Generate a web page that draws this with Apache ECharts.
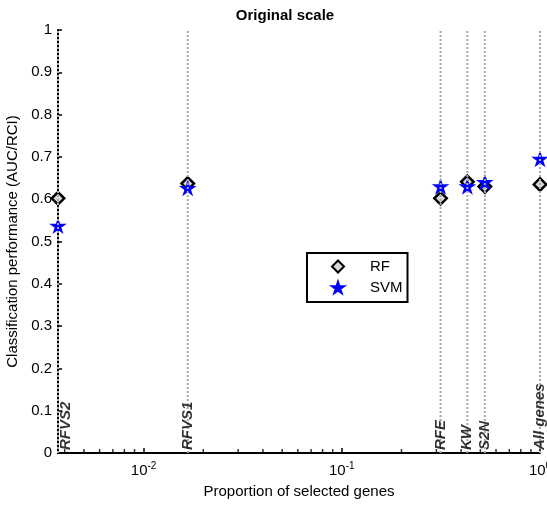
<!DOCTYPE html>
<html><head><meta charset="utf-8">
<script src="https://cdn.jsdelivr.net/npm/echarts@6/dist/echarts.min.js"></script>
<style>html,body{margin:0;padding:0;background:#fff}#c{width:547px;height:506px}</style>
</head><body><div id="c"></div>
<script>
// ---- data ----
const methods = ['RFVS2', 'RFVS1', 'RFE', 'KW', 'S2N', 'All genes'];
const proportion = [0.0037, 0.0167, 0.315, 0.43, 0.527, 1];
const rfValues = [0.602, 0.637, 0.602, 0.641, 0.630, 0.635];
const svmValues = [0.537, 0.626, 0.630, 0.630, 0.640, 0.695];
const seriesNames = ['RF', 'SVM'];
const yMin = 0, yMax = 1, yStep = 0.1;
const xMin = 0.0037, xMax = 1;
const minorTickValues = [0.004, 0.005, 0.006, 0.007, 0.008, 0.009,
  0.02, 0.03, 0.04, 0.05, 0.06, 0.07, 0.08, 0.09,
  0.2, 0.3, 0.4, 0.5, 0.6, 0.7, 0.8, 0.9];
const titleText = 'Original scale';
const xName = 'Proportion of selected genes';
const yName = 'Classification performance (AUC/RCI)';

// ---- chart ----
const FONT = '"Liberation Sans", Arial, sans-serif';
const starPath = 'path://M100,0 L122.45,69.1 L195.1,69.1 L136.3,111.8 L158.8,180.9 L100,138.2 L41.2,180.9 L63.7,111.8 L4.9,69.1 L77.55,69.1 Z';
const chart = echarts.init(document.getElementById('c'), null, {renderer: 'canvas'});

function isPow10(v) {
  const l = Math.log10(v);
  return Math.abs(l - Math.round(l)) < 1e-6;
}

const option = {
  backgroundColor: '#fff',
  animation: false,
  textStyle: {fontFamily: FONT},
  title: {
    text: titleText, left: 285, top: 8, textAlign: 'center', padding: 0,
    textStyle: {fontFamily: FONT, fontSize: 15, fontWeight: 'bold', color: '#000'}
  },
  grid: {left: 58, right: 7, top: 30, bottom: 53, containLabel: false, outerBoundsMode: 'none'},
  legend: {
    orient: 'vertical', left: 307, top: 253,
    data: [{name: seriesNames[0], icon: 'diamond'}, {name: seriesNames[1], icon: starPath}],
    backgroundColor: '#fff', borderColor: '#000', borderWidth: 2, borderRadius: 0,
    padding: [6, 5, 7, 24], itemWidth: 12, itemHeight: 12, itemGap: 6,
    textStyle: {fontFamily: FONT, fontSize: 15, color: '#000', padding: [0, 0, 0, 21]}
  },
  xAxis: {
    type: 'log', logBase: 10, min: xMin, max: xMax,
    name: xName, nameLocation: 'middle', nameGap: 31,
    nameTextStyle: {fontFamily: FONT, fontSize: 15, color: '#000'},
    axisLine: {show: true, onZero: false, lineStyle: {color: '#000', width: 2}},
    axisTick: {show: true, inside: true, length: 5, lineStyle: {color: '#000', width: 1.5}},
    minorTick: {show: false},
    splitLine: {show: false},
    axisLabel: {
      margin: 8, color: '#000', fontFamily: FONT, hideOverlap: false,
      formatter: function (v) {
        if (!isPow10(v)) return '';
        return '{b|10}{s|' + Math.round(Math.log10(v)) + '}';
      },
      rich: {
        b: {fontSize: 15, fontFamily: FONT, color: '#000'},
        s: {fontSize: 10, fontFamily: FONT, color: '#000', padding: [0, 0, 9, 0]}
      }
    }
  },
  yAxis: {
    type: 'value', min: yMin, max: yMax, interval: yStep,
    name: yName, nameLocation: 'middle', nameGap: 30,
    nameTextStyle: {fontFamily: FONT, fontSize: 15, color: '#000'},
    axisLine: {show: true, onZero: false, lineStyle: {color: '#000', width: 2}},
    axisTick: {show: true, inside: true, length: 4, lineStyle: {color: '#000', width: 1.5}},
    splitLine: {show: false},
    axisLabel: {margin: 6, fontSize: 15, color: '#000', fontFamily: FONT}
  },
  series: [
    {
      name: seriesNames[0], type: 'scatter', z: 2, clip: false,
      symbol: 'diamond', symbolSize: 12.5,
      itemStyle: {color: '#d9d9d9', borderColor: '#000', borderWidth: 2.5, opacity: 1},
      data: proportion.map((p, i) => [p, rfValues[i]])
    },
    {
      name: seriesNames[1], type: 'scatter', z: 2, clip: false,
      symbol: starPath, symbolSize: 13, symbolKeepAspect: true,
      itemStyle: {color: '#0000ff', borderColor: '#0000ff', borderWidth: 1.5, opacity: 1},
      data: proportion.map((p, i) => [p, svmValues[i]])
    },
    {
      name: 'guides', type: 'custom', z: 4, silent: true, clip: false,
      data: proportion.map(p => [p, yMax]),
      encode: {x: 0, y: 1},
      renderItem: function (params, api) {
        const x = api.value(0);
        const p0 = api.coord([x, yMin]);
        const p1 = api.coord([x, yMax]);
        return {
          type: 'line',
          shape: {x1: p0[0], y1: p0[1], x2: p1[0], y2: p1[1]},
          style: {stroke: '#a8a8a8', lineWidth: 2, lineDash: [2, 2]}
        };
      }
    },
    {
      name: 'minor', type: 'scatter', z: 3, clip: false, silent: true,
      symbol: 'rect', symbolSize: [1.5, 3], symbolOffset: [0, -2.5],
      itemStyle: {color: '#000'},
      data: minorTickValues.map(v => [v, yMin])
    },
    {
      name: 'methods', type: 'scatter', z: 5, clip: false, silent: true,
      symbolSize: 0,
      data: proportion.map((p, i) => ({
        value: [p, yMin], name: methods[i],
        label: p === xMin ? {verticalAlign: 'top'} : undefined
      })),
      label: {
        show: true, position: 'top', distance: 3, rotate: 90,
        align: 'left', verticalAlign: 'middle',
        formatter: '{b}',
        fontFamily: FONT, fontSize: 15, fontStyle: 'italic', fontWeight: 'bold', color: '#000'
      }
    }
  ]
};
chart.setOption(option);
</script>
</body></html>
